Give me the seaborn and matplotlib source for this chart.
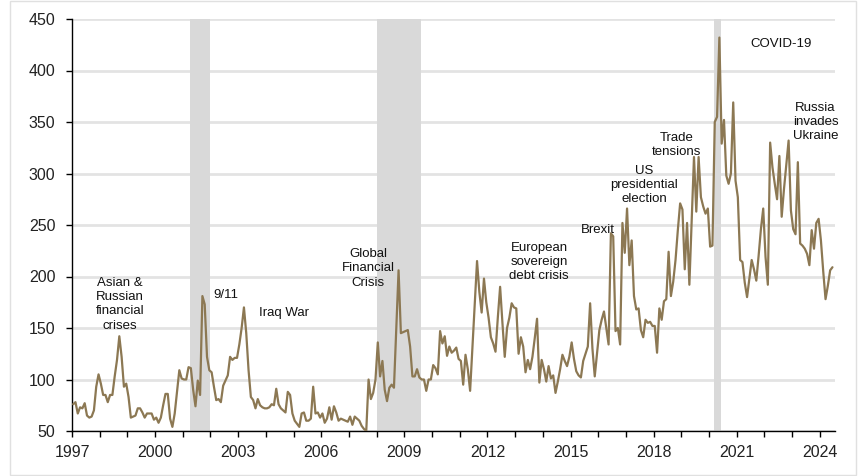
import numpy as np
import pandas as pd
import matplotlib
matplotlib.use("Agg")
import matplotlib.pyplot as plt
import seaborn as sns
from matplotlib.patches import Rectangle
from matplotlib.ticker import MultipleLocator, FixedLocator

# Global economic policy uncertainty index, monthly values by year
y1997 = [76, 78, 67, 73, 72, 77, 65, 63, 64, 70, 93, 105]
y1998 = [96, 85, 85, 78, 85, 85, 103, 119, 142, 122, 93, 96]
y1999 = [83, 63, 64, 65, 72, 72, 68, 63, 67, 67, 67, 61]
y2000 = [63, 58, 63, 75, 86, 86, 62, 54, 67, 88, 109, 101]
y2001 = [100, 100, 112, 111, 90, 74, 99, 85, 181, 173, 122, 109]
y2002 = [107, 93, 80, 81, 78, 94, 99, 104, 122, 119, 121, 121]
y2003 = [134, 150, 170, 145, 109, 83, 80, 72, 81, 75, 73, 72]
y2004 = [72, 73, 76, 75, 91, 76, 72, 70, 68, 88, 85, 67]
y2005 = [60, 57, 54, 67, 68, 60, 60, 62, 93, 67, 68, 63]
y2006 = [67, 58, 62, 73, 61, 74, 68, 60, 62, 61, 60, 59]
y2007 = [64, 56, 64, 62, 60, 55, 52, 50, 100, 81, 87, 100]
y2008 = [136, 103, 118, 90, 79, 92, 95, 92, 150, 206, 145, 146]
y2009 = [147, 148, 132, 103, 103, 110, 102, 100, 100, 89, 100, 100]
y2010 = [114, 111, 105, 147, 135, 142, 123, 132, 126, 128, 131, 120]
y2011 = [118, 95, 124, 110, 89, 131, 173, 215, 185, 165, 198, 175]
y2012 = [160, 141, 135, 127, 160, 190, 155, 122, 150, 160, 174, 170]
y2013 = [169, 125, 141, 132, 107, 119, 110, 122, 140, 159, 97, 119]
y2014 = [110, 98, 113, 101, 104, 87, 98, 110, 124, 118, 113, 122]
y2015 = [136, 120, 108, 104, 102, 118, 125, 132, 174, 130, 103, 125]
y2016 = [148, 158, 166, 150, 134, 242, 239, 147, 150, 134, 252, 223]
y2017 = [266, 211, 235, 181, 168, 169, 148, 141, 158, 155, 156, 152]
y2018 = [152, 126, 169, 158, 176, 178, 224, 181, 195, 216, 245, 271]
y2019 = [265, 207, 252, 192, 255, 316, 263, 316, 277, 268, 261, 266]
y2020 = [229, 230, 350, 355, 432, 329, 352, 298, 290, 300, 369, 293]
y2021 = [277, 216, 214, 194, 180, 198, 216, 207, 196, 220, 246, 266]
y2022 = [219, 192, 330, 306, 290, 275, 317, 258, 285, 308, 332, 264]
y2023 = [246, 241, 311, 232, 230, 227, 222, 211, 245, 227, 252, 256]
y2024 = [235, 205, 178, 191, 206, 209]

years = [y1997, y1998, y1999, y2000, y2001, y2002, y2003, y2004, y2005, y2006,
         y2007, y2008, y2009, y2010, y2011, y2012, y2013, y2014, y2015, y2016,
         y2017, y2018, y2019, y2020, y2021, y2022, y2023, y2024]

# Labelled years on the time axis
year_labels = [1997, 2000, 2003, 2006, 2009, 2012, 2015, 2018, 2021, 2024]

# Shaded episodes (start, end) in decimal years
shaded = [(2001.25, 2001.98), (2008.02, 2009.60), (2020.18, 2020.44)]

# Event labels: text, x centre, y centre
events = [
    ("Asian &\nRussian\nfinancial\ncrises", 1998.73, 173),
    ("9/11", 2002.55, 182),
    ("Iraq War", 2004.64, 165),
    ("Global\nFinancial\nCrisis", 2007.69, 208),
    ("European\nsovereign\ndebt crisis", 2013.87, 214),
    ("Brexit", 2015.99, 245),
    ("US\npresidential\nelection", 2017.66, 289),
    ("Trade\ntensions", 2018.83, 328),
    ("COVID-19", 2022.60, 426),
    ("Russia\ninvades\nUkraine", 2023.85, 350),
]

values = np.concatenate([np.asarray(v, dtype=float) for v in years])
dates = pd.date_range("1997-01-01", periods=len(values), freq="MS")
t = dates.year + (dates.month - 0.5) / 12.0
df = pd.DataFrame({"t": t, "index": values})

sns.set_style("white")
plt.rcParams["font.family"] = ["Liberation Sans", "DejaVu Sans"]

fig = plt.figure(figsize=(8.58, 4.76), dpi=100)
ax = fig.add_axes([72 / 858, 1 - 431 / 476, (835 - 72) / 858, (431 - 19) / 476])

ax.set_axisbelow(True)
ax.yaxis.grid(True, color="#E3E3E3", linewidth=2)
ax.xaxis.grid(False)

for a, b in shaded:
    ax.axvspan(a, b, color="#D9D9D9", linewidth=0, zorder=1)

sns.lineplot(data=df, x="t", y="index", ax=ax, color="#8C7853",
             linewidth=1.6, zorder=3)

ax.set_xlim(1997, 2024.55)
ax.set_ylim(50, 450)
ax.yaxis.set_major_locator(MultipleLocator(50))
ax.xaxis.set_major_locator(FixedLocator(year_labels))
ax.xaxis.set_minor_locator(MultipleLocator(1))
ax.set_xticklabels([str(y) for y in year_labels])
ax.set_xlabel("")
ax.set_ylabel("")

for s in ["top", "right"]:
    ax.spines[s].set_visible(False)
for s in ["left", "bottom"]:
    ax.spines[s].set_color("#000000")
    ax.spines[s].set_linewidth(1.0)

ax.tick_params(axis="y", which="major", direction="out", length=4, width=1,
               color="#000000", labelsize=11.5, labelcolor="#222222", pad=8, left=True)
ax.tick_params(axis="x", which="both", direction="out", length=4, width=1,
               color="#000000", bottom=True)
ax.tick_params(axis="x", which="major", labelsize=11.5, labelcolor="#222222", pad=6)

for text, x, y in events:
    ax.text(x, y, text, ha="center", va="center", fontsize=9.5,
            color="#111111", linespacing=1.25, zorder=4)

fig.patches.append(Rectangle((10 / 858, 1 / 476), 846 / 858, 474 / 476,
                             transform=fig.transFigure, fill=False,
                             edgecolor="#E0E0E0", linewidth=1))

fig.savefig("out.png", dpi=100)
